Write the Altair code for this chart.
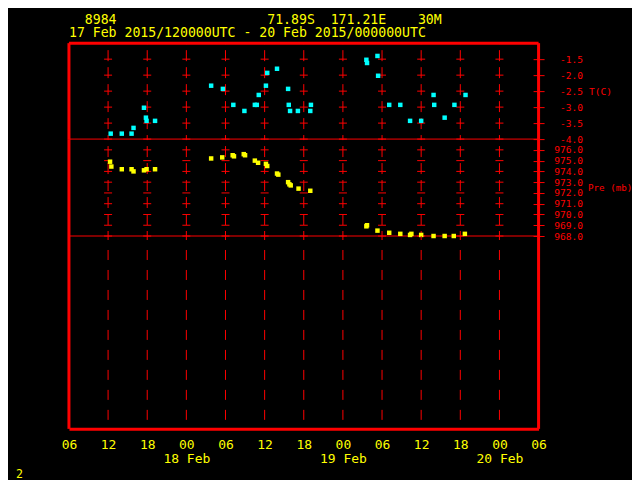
import altair as alt
import pandas as pd

RED = "#ff0000"
YELLOW = "#ffff00"
CYAN = "#00ffff"
FONT = "DejaVu Sans Mono"
NB = "\u00a0"

# ---- header / footer text ----
station = "8984"
latitude = "71.89S"
longitude = "171.21E"
elevation = "30M"
period = "17 Feb 2015/120000UTC - 20 Feb 2015/000000UTC"
footer = "2"

HEAD_SIZE = 13.2
CHAR_W = 0.602 * HEAD_SIZE
header1 = station + NB * 19 + latitude + NB * 2 + longitude + NB * 4 + elevation
header2 = period.replace(" ", NB)

# ---- time axis: hours since 17 Feb 2015 00 UTC ----
x_domain = [6, 78]
x_tick_hours = [6, 12, 18, 24, 30, 36, 42, 48, 54, 60, 66, 72, 78]
x_tick_labels = ["06", "12", "18", "00", "06", "12", "18", "00", "06", "12", "18", "00", "06"]
day_hours = [24, 48, 72]
day_labels = ["18 Feb", "19 Feb", "20 Feb"]
grid_hours = [12, 18, 24, 30, 36, 42, 48, 54, 60, 66, 72]

# ---- y axes ----
temp_domain = [-4.0, -1.0]
temp_ticks = [-1.5, -2.0, -2.5, -3.0, -3.5, -4.0]
pres_domain = [968.0, 977.0]
pres_ticks = [976.0, 975.0, 974.0, 973.0, 972.0, 971.0, 970.0, 969.0, 968.0]

# ---- temperature (C) ----
temp_hours = [12.4, 14.1, 15.6, 15.9, 17.5, 17.8, 17.9, 19.2, 27.8, 29.6, 31.2, 32.9,
              34.5, 34.8, 35.1, 36.2, 36.4, 37.9, 39.6, 39.7, 39.9, 41.1, 43.0, 43.1,
              51.6, 51.7, 53.3, 53.4, 55.1, 56.8, 58.3, 60.0, 61.9, 62.0, 63.6, 65.1, 66.8]
temp_values = [-3.83, -3.83, -3.83, -3.65, -3.02, -3.33, -3.43, -3.43, -2.33, -2.43, -2.93, -3.12,
               -2.93, -2.93, -2.62, -2.33, -1.93, -1.80, -2.43, -2.93, -3.12, -3.12, -3.12, -2.93,
               -1.52, -1.62, -1.40, -2.02, -2.93, -2.93, -3.43, -3.43, -2.62, -2.93, -3.33, -2.93, -2.62]

# ---- pressure (mb) ----
pres_hours = [12.3, 12.5, 14.1, 15.6, 15.9, 17.5, 17.9, 19.2, 27.8, 29.5, 31.1, 31.3,
              32.8, 33.0, 34.5, 35.0, 36.2, 36.4, 37.9, 38.1, 39.6, 39.8, 40.0, 41.2, 43.0,
              51.6, 51.7, 53.3, 55.1, 56.8, 58.3, 58.5, 60.0, 61.9, 63.6, 65.0, 66.7]
pres_values = [974.9, 974.45, 974.2, 974.2, 974.0, 974.1, 974.2, 974.2, 975.2, 975.3, 975.5, 975.4,
               975.6, 975.5, 975.0, 974.8, 974.7, 974.5, 973.8, 973.7, 973.0, 972.8, 972.7, 972.4, 972.2,
               968.9, 969.0, 968.5, 968.3, 968.2, 968.1, 968.2, 968.1, 968.0, 968.0, 968.0, 968.2]

W = 470
H_T, H_P, H_E = 96, 97, 193

# ---- label expressions ----
rows = []
for hh, lab in zip(x_tick_hours, x_tick_labels):
    if hh in day_hours:
        rows.append([lab, day_labels[day_hours.index(hh)]])
    else:
        rows.append([lab])
arr = "[" + ",".join("[" + ",".join("'" + s + "'" for s in r) + "]" for r in rows) + "]"
x_label_expr = arr + "[round((datum.value - %d) / 6)]" % x_domain[0]
y_label_expr = "(datum.value < 0 ? '-' : '') + format(abs(datum.value), '.1f')"

xscale = alt.Scale(domain=x_domain, nice=False, zero=False)
x_plain = alt.X("h:Q", scale=xscale, axis=None)


def right_axis(ticks, title, mid, title_x, title_size):
    return alt.Axis(orient="right", values=ticks, offset=-5.5, domain=False, grid=False,
                    ticks=True, tickSize=11, tickColor=RED, tickWidth=1,
                    labelColor=RED, labelFont=FONT, labelFontSize=9.6, labelAlign="right",
                    labelBaseline="middle", labelPadding=38.5, labelExpr=y_label_expr,
                    labelOverlap=False, labelFlush=False,
                    title=title, titleColor=RED, titleFont=FONT, titleFontSize=title_size,
                    titleFontWeight="normal", titleAngle=0, titleAlign="left",
                    titleBaseline="middle", titleX=title_x, titleY=mid)


grid_df = pd.DataFrame({"h": grid_hours})
edge_df = pd.DataFrame({"h": x_domain})


def panel(field, domain, ticks, axis, height, hours, values, color, edge_widths):
    yenc = alt.Y(field + ":Q", scale=alt.Scale(domain=domain, nice=False, zero=False), axis=axis)
    cross_df = pd.DataFrame([(hh, t) for hh in grid_hours for t in ticks], columns=["h", field])
    hedge_df = pd.DataFrame({field: domain, "w": edge_widths})
    pts_df = pd.DataFrame({"h": hours, field: values})
    grid = alt.Chart(grid_df).mark_rule(color=RED, strokeWidth=1, strokeDash=[11, 6],
                                        strokeDashOffset=10).encode(x=x_plain)
    cross = alt.Chart(cross_df).mark_tick(orient="horizontal", color=RED, size=8, thickness=1,
                                          opacity=1).encode(x=x_plain, y=yenc)
    vedge = alt.Chart(edge_df).mark_rule(color=RED, strokeWidth=3).encode(x=x_plain)
    hedge = alt.Chart(hedge_df).mark_rule(color=RED).encode(
        y=yenc, strokeWidth=alt.StrokeWidth("w:Q", scale=None, legend=None))
    pts = alt.Chart(pts_df).mark_square(size=20, color=color, opacity=1).encode(x=x_plain, y=yenc)
    return [grid, cross, vedge, hedge, pts]


axis_T = right_axis(temp_ticks, "T(C)", H_T / 2, 55.5, 9.6)
axis_P = right_axis(pres_ticks, "Pre (mb)", H_P / 2, 54.5, 9.2)

p1_layers = panel("T", temp_domain, temp_ticks, axis_T, H_T, temp_hours, temp_values, CYAN, [1, 3])
head1 = alt.Chart(pd.DataFrame({"t": [header1]})).mark_text(
    align="left", baseline="alphabetic", font=FONT, fontSize=HEAD_SIZE, color=YELLOW,
    dx=2 * CHAR_W
).encode(text="t:N", x=alt.value(0), y=alt.value(-19))
head2 = alt.Chart(pd.DataFrame({"t": [header2]})).mark_text(
    align="left", baseline="alphabetic", font=FONT, fontSize=HEAD_SIZE, color=YELLOW
).encode(text="t:N", x=alt.value(0), y=alt.value(-6))
p1 = alt.layer(*p1_layers, head1, head2).properties(width=W, height=H_T)

p2_layers = panel("P", pres_domain, pres_ticks, axis_P, H_P, pres_hours, pres_values, YELLOW, [1, 0])
p2 = alt.layer(*p2_layers).properties(width=W, height=H_P)

x_axis = alt.X("h:Q", scale=xscale,
               axis=alt.Axis(values=x_tick_hours, labelExpr=x_label_expr, labelColor=YELLOW,
                             labelFont=FONT, labelFontSize=13, labelPadding=10, ticks=False,
                             tickSize=0, domain=True, domainColor=RED, domainWidth=3, grid=False,
                             labelLineHeight=13.3, labelBaseline="top", labelAlign="center",
                             labelFlush=False, labelOverlap=False, title=None))
grid3 = alt.Chart(grid_df).mark_rule(color=RED, strokeWidth=1, strokeDash=[10, 10],
                                     strokeDashOffset=6).encode(x=x_axis)
vedge3 = alt.Chart(edge_df).mark_rule(color=RED, strokeWidth=3).encode(x=x_axis)
foot = alt.Chart(pd.DataFrame({"t": [footer]})).mark_text(
    align="left", baseline="alphabetic", font=FONT, fontSize=11.6, color=YELLOW
).encode(text="t:N", x=alt.value(-53), y=alt.value(242.5))
p3 = alt.layer(grid3, vedge3, foot).properties(width=W, height=H_E)

chart = alt.vconcat(p1, p2, p3, spacing=0, bounds="flush").resolve_scale(
    x="independent", y="independent"
).properties(
    background="black", padding={"left": 8, "top": 5, "right": -0.5, "bottom": 0}
).configure_view(stroke=None)

chart.save("out.html", embed_options={"renderer": "svg", "actions": False})
